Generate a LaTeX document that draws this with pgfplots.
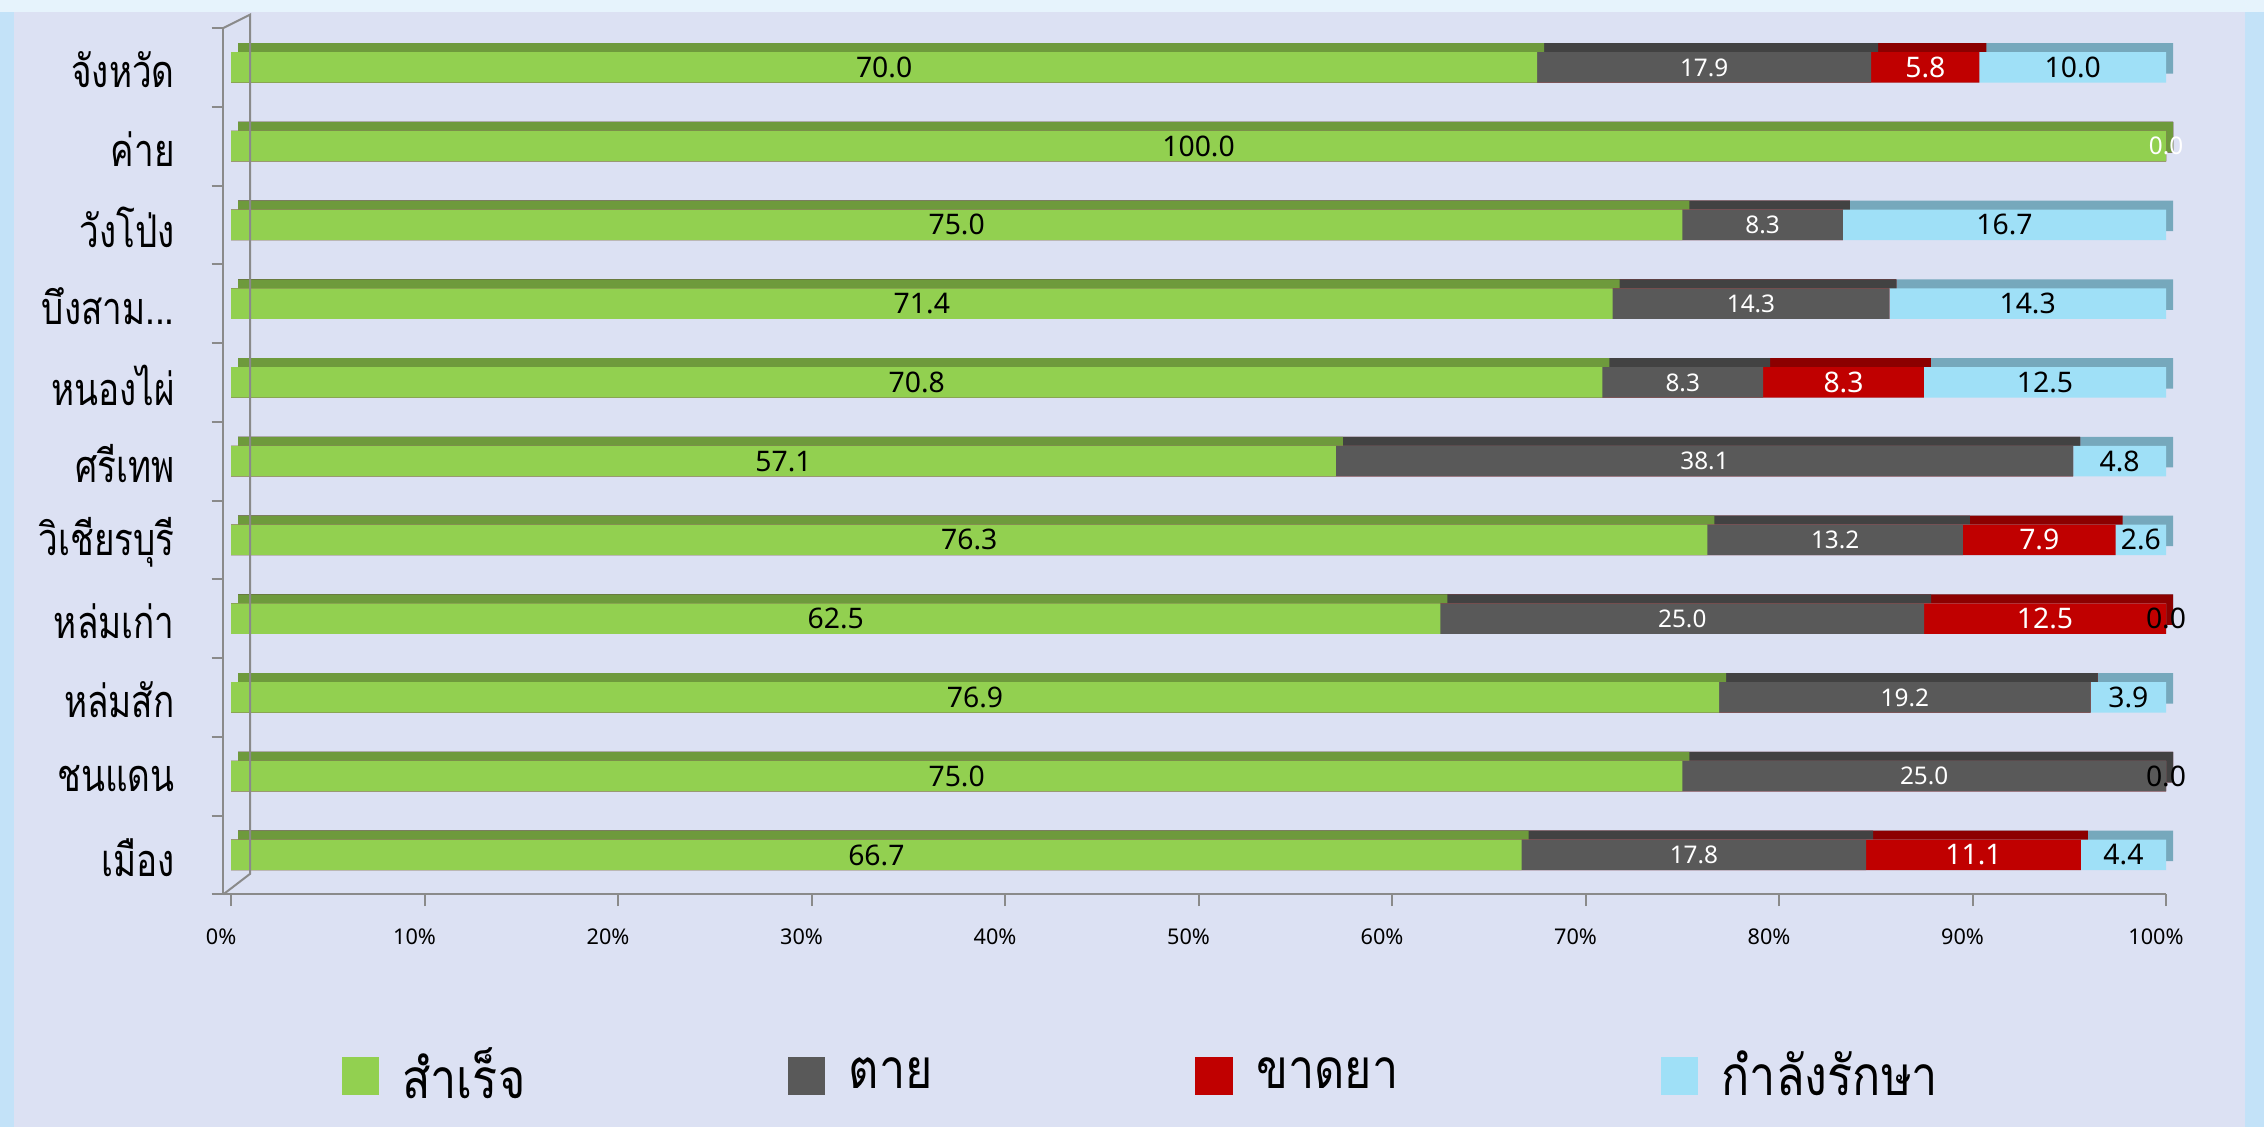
\documentclass[border=0pt]{standalone}
\usepackage{pgfplots}
\pgfplotsset{compat=1.18}
\usepackage{pgfplotstable}
\usepackage{fontspec}
\setmainfont{Noto Sans}
\newfontfamily\thaifont[Script=Thai,FakeStretch=0.78]{Loma}
\newfontfamily\thaileg[Script=Thai,FakeStretch=0.85]{Loma}

\definecolor{bord}{HTML}{C3E2F8}
\definecolor{topc}{HTML}{E6F3FC}
\definecolor{panel}{HTML}{DCE1F3}
\definecolor{gF}{HTML}{92D050}\definecolor{gB}{HTML}{6E9A3C}
\definecolor{kF}{HTML}{595959}\definecolor{kB}{HTML}{424242}
\definecolor{rF}{HTML}{C00000}\definecolor{rB}{HTML}{8C0000}
\definecolor{bF}{HTML}{9FE0F7}\definecolor{bB}{HTML}{76A8BC}
\definecolor{axg}{HTML}{8A8A8A}

% rows from top (index 0) to bottom
\pgfplotstableread{
s d m t ls ld lm lt
70.0 17.9 5.8 10.0 70.0 17.9 5.8 10.0
100.0 0 0 0 100.0 0.0 {} {}
75.0 8.3 0 16.7 75.0 8.3 {} 16.7
71.4 14.3 0 14.3 71.4 14.3 {} 14.3
70.8 8.3 8.3 12.5 70.8 8.3 8.3 12.5
57.1 38.1 0 4.8 57.1 38.1 {} 4.8
76.3 13.2 7.9 2.6 76.3 13.2 7.9 2.6
62.5 25.0 12.5 0.0 62.5 25.0 12.5 0.0
76.9 19.2 0 3.9 76.9 19.2 {} 3.9
75.0 25.0 0 0.0 75.0 25.0 {} 0.0
66.7 17.8 11.1 4.4 66.7 17.8 11.1 4.4
}\data

\def\T{(\thisrow{s}+\thisrow{d}+\thisrow{m}+\thisrow{t})}
\def\bsam{บึงสาม.\kern0pt.\kern0pt.}

\pgfplotsset{
  front/.style={xbar, bar width=9.15pt, bar shift=0pt, draw=none, fill=#1, forget plot},
  back/.style={front=#1, xshift=2.1pt, yshift=2.7pt},
  lab/.style 2 args={draw=none, mark=none, forget plot, point meta=explicit symbolic,
    nodes near coords,
    every node near coord/.style={anchor=center, inner sep=0pt, text=#1, font=\fontsize{#2}{#2}\selectfont}},
  legsq/.style={legend image code/.code={\fill[#1] (0pt,-5.4pt) rectangle (10.8pt,5.4pt);}},
}

\begin{document}
\begin{tikzpicture}
\fill[bord] (0,0) rectangle (679.2pt,338.1pt);
\fill[topc] (0,334.6pt) rectangle (679.2pt,338.1pt);
\fill[panel] (4.3pt,0) rectangle (673.5pt,334.6pt);
\useasboundingbox (0,0) rectangle (679.2pt,338.1pt);
\begin{axis}[
  at={(67pt,69.8pt)}, anchor=south west,
  scale only axis, width=582.8pt, height=259.9pt,
  xmin=-0.4, xmax=100, ymin=-0.5, ymax=10.5,
  clip=false,
  axis lines*=left,
  axis line style={draw=axg, line width=0.6pt},
  tick align=outside,
  major tick length=0pt,
  minor tick length=3.5pt,
  tick style={draw=axg, line width=0.6pt},
  xtick={0,10,20,30,40,50,60,70,80,90,100},
  xticklabels={0\%,10\%,20\%,30\%,40\%,50\%,60\%,70\%,80\%,90\%,100\%},
  minor xtick={0,10,20,30,40,50,60,70,80,90,100},
  ytick={0,1,2,3,4,5,6,7,8,9,10},
  yticklabels={เมือง,ชนแดน,หล่มสัก,หล่มเก่า,วิเชียรบุรี,ศรีเทพ,หนองไผ่,\bsam,วังโป่ง,ค่าย,จังหวัด},
  minor ytick={-0.5,0.5,1.5,2.5,3.5,4.5,5.5,6.5,7.5,8.5,9.5,10.5},
  xticklabel style={font=\fontsize{6.5}{8}\selectfont, anchor=center, inner sep=0pt, yshift=-12.6pt, xshift=-3pt},
  yticklabel style={font=\thaifont\fontsize{13.5}{15}\selectfont, anchor=east, inner sep=0pt, xshift=-14.4pt, yshift=-0.8pt},
  legend style={at={(0.4735,-0.2097)}, anchor=center, draw=none, fill=none,
    font=\thaileg\fontsize{16.5}{18}\selectfont,
    /tikz/every even column/.append style={column sep=76.8pt}},
  legend columns=4,
  legend cell align=left,
]
% back faces (depth)
\addplot[back=bB] table[x expr={100*(\thisrow{s}+\thisrow{d}+\thisrow{m}+\thisrow{t})/\T}, y expr=10-\coordindex]{\data};
\addplot[back=rB] table[x expr={100*(\thisrow{s}+\thisrow{d}+\thisrow{m})/\T}, y expr=10-\coordindex]{\data};
\addplot[back=kB] table[x expr={100*(\thisrow{s}+\thisrow{d})/\T}, y expr=10-\coordindex]{\data};
\addplot[back=gB] table[x expr={100*\thisrow{s}/\T}, y expr=10-\coordindex]{\data};
% front faces
\addplot[front=bF] table[x expr={100*(\thisrow{s}+\thisrow{d}+\thisrow{m}+\thisrow{t})/\T}, y expr=10-\coordindex]{\data};
\addplot[front=rF] table[x expr={100*(\thisrow{s}+\thisrow{d}+\thisrow{m})/\T}, y expr=10-\coordindex]{\data};
\addplot[front=kF] table[x expr={100*(\thisrow{s}+\thisrow{d})/\T}, y expr=10-\coordindex]{\data};
\addplot[front=gF] table[x expr={100*\thisrow{s}/\T}, y expr=10-\coordindex]{\data};
% labels
\addplot[lab={black}{8.5}] table[x expr={50*\thisrow{s}/\T}, y expr=10-\coordindex, meta=ls]{\data};
\addplot[lab={white}{7.3}] table[x expr={100*(\thisrow{s}+0.5*\thisrow{d})/\T}, y expr=10-\coordindex, meta=ld]{\data};
\addplot[lab={white}{8.5}] table[x expr={100*(\thisrow{s}+\thisrow{d}+0.5*\thisrow{m})/\T}, y expr=10-\coordindex, meta=lm]{\data};
\addplot[lab={black}{8.5}] table[x expr={100*(\thisrow{s}+\thisrow{d}+\thisrow{m}+0.5*\thisrow{t})/\T}, y expr=10-\coordindex, meta=lt]{\data};
% 3D wall edges
\draw[axg, line width=0.6pt] (axis cs:-0.4,10.5) -- (axis cs:0.98,10.67) -- (axis cs:0.98,-0.24) -- (axis cs:-0.4,-0.5);
% legend
\addlegendimage{legsq=gF}\addlegendentry{\hspace{5pt}สำเร็จ}
\addlegendimage{legsq=kF}\addlegendentry{\hspace{5pt}ตาย}
\addlegendimage{legsq=rF}\addlegendentry{\hspace{5pt}ขาดยา}
\addlegendimage{legsq=bF}\addlegendentry{\hspace{5pt}กำลังรักษา}
\end{axis}
\end{tikzpicture}
\end{document}
